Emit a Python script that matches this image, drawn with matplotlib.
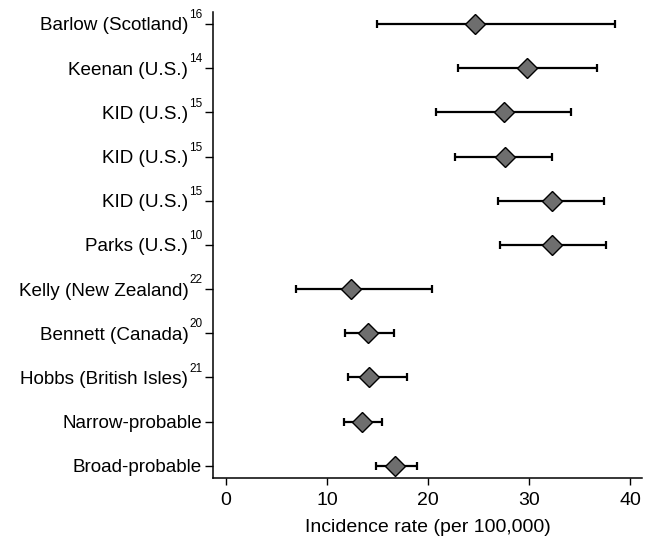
import matplotlib
matplotlib.use("Agg")
import matplotlib.pyplot as plt
import numpy as np

plt.rcParams['font.family'] = ['Liberation Sans', 'DejaVu Sans']

# estudos, de cima para baixo
estudos = ['Barlow (Scotland)', 'Keenan (U.S.)', 'KID (U.S.)', 'KID (U.S.)', 'KID (U.S.)',
           'Parks (U.S.)', 'Kelly (New Zealand)', 'Bennett (Canada)', 'Hobbs (British Isles)',
           'Narrow-probable', 'Broad-probable']
refs = ['16', '14', '15', '15', '15', '10', '22', '20', '21', '', '']
taxa = [24.6, 29.8, 27.5, 27.6, 32.3, 32.3, 12.35, 14.1, 14.2, 13.5, 16.7]
ic_inf = [14.9, 23.0, 20.8, 22.7, 26.9, 27.1, 6.9, 11.8, 12.1, 11.7, 14.8]
ic_sup = [38.5, 36.7, 34.1, 32.3, 37.4, 37.6, 20.4, 16.6, 17.9, 15.4, 18.9]

n = len(estudos)
pos = np.arange(n)[::-1]
taxa = np.array(taxa)
err = [taxa - np.array(ic_inf), np.array(ic_sup) - taxa]

fig = plt.figure(figsize=(6.53, 5.55), dpi=100)
ax = fig.add_axes([0.3267, 0.138, 0.657, 0.8395])

ax.errorbar(taxa, pos, xerr=err, fmt='none', ecolor='black', elinewidth=1.6,
            capsize=3, capthick=1.6, zorder=2)
ax.plot(taxa, pos, 'D', markersize=10.5, markerfacecolor='#6e6e6e',
        markeredgecolor='black', markeredgewidth=1.0, zorder=3)

ax.set_xlim(-1.25, 41.2)
ax.set_ylim(-0.285, 10.26)
ax.set_xticks([0, 10, 20, 30, 40])
ax.set_yticks(pos)
ax.set_yticklabels([''] * n)
ax.tick_params(axis='x', labelsize=14, length=5, width=1, direction='out', pad=5)
ax.tick_params(axis='y', length=6, width=1, direction='out', pad=2)
ax.set_xlabel('Incidence rate (per 100,000)', fontsize=14, labelpad=7)

ax.spines['top'].set_visible(False)
ax.spines['right'].set_visible(False)
ax.spines['left'].set_linewidth(1.1)
ax.spines['bottom'].set_linewidth(1.1)

# rotulos com referencia sobrescrita
renderer = fig.canvas.get_renderer()
borda = -8.1
for nome, r, y in zip(estudos, refs, pos):
    desloc = borda
    if r:
        s = ax.annotate(r, xy=(0, y), xycoords=('axes fraction', 'data'),
                        xytext=(borda, 4.2), textcoords='offset points',
                        ha='right', va='baseline', fontsize=8.5)
        w = s.get_window_extent(renderer).width * 72.0 / fig.dpi
        desloc = borda - w - 0.5
    ax.annotate(nome, xy=(0, y), xycoords=('axes fraction', 'data'),
                xytext=(desloc, 0), textcoords='offset points',
                ha='right', va='center_baseline', fontsize=13.6)

fig.savefig('out.png', dpi=100)
